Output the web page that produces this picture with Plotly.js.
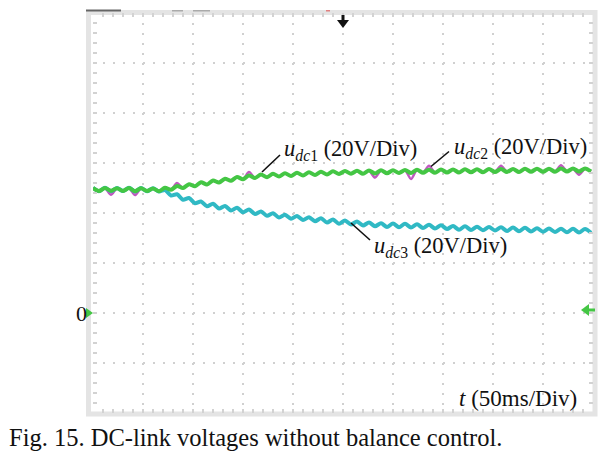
<!DOCTYPE html>
<html>
<head>
<meta charset="utf-8">
<script src="https://cdn.plot.ly/plotly-3.0.1.min.js"></script>
<style>
  html, body { margin: 0; padding: 0; background: #fff; }
  #plot { width: 616px; height: 456px; }
</style>
</head>
<body>
<div id="plot"></div>
<script>
// time base (ms), 50 ms/div, 10 div
const tMs = [0, 6, 12, 18, 24, 30, 36, 42, 48, 54, 60, 66, 72, 78, 84, 90, 96, 102, 108, 114,
  120, 126, 132, 138, 144, 150, 156, 162, 168, 174, 180, 186, 192, 198, 204, 210, 216, 222, 228, 234,
  240, 246, 252, 258, 264, 270, 276, 282, 288, 294, 300, 306, 312, 318, 324, 330, 336, 342, 348, 354,
  360, 366, 372, 378, 384, 390, 396, 402, 408, 414, 420, 426, 432, 438, 444, 450, 456, 462, 468, 474,
  480, 486, 492, 498];

// udc2 (green) in V, 20 V/div
const udc2 = [50.0, 48.8, 50.0, 48.9, 49.9, 48.8, 50.0, 48.7, 49.9, 48.8, 49.8, 48.7, 50.1, 49.3, 50.8, 50.0, 51.5, 50.7, 52.3, 51.4,
  53.0, 52.2, 53.7, 52.9, 54.4, 53.5, 55.0, 54.0, 55.4, 54.3, 55.7, 54.6, 55.9, 54.8, 56.1, 55.0, 56.3, 55.2, 56.5, 55.4,
  56.7, 55.6, 56.8, 55.7, 56.9, 55.7, 57.0, 55.8, 57.1, 55.9, 57.1, 56.0, 57.2, 56.0, 57.3, 56.1, 57.3, 56.1, 57.4, 56.2,
  57.4, 56.2, 57.5, 56.3, 57.5, 56.3, 57.6, 56.4, 57.6, 56.4, 57.6, 56.4, 57.7, 56.5, 57.7, 56.5, 57.7, 56.5, 57.8, 56.6,
  57.8, 56.6, 57.8, 56.6];

// udc1 (magenta), mostly under udc2, with small spikes
const udc1 = [49.9, 48.9, 49.9, 47.3, 49.9, 48.9, 49.9, 47.2, 49.9, 48.8, 49.8, 48.7, 50.0, 49.3, 52.0, 50.0, 51.4, 50.7, 52.2, 51.4,
  52.9, 52.2, 53.6, 52.9, 54.3, 53.5, 56.4, 54.0, 55.3, 54.3, 55.6, 54.6, 55.8, 54.8, 56.0, 55.0, 56.2, 55.2, 56.4, 55.4,
  56.6, 55.6, 56.7, 55.7, 56.8, 55.7, 56.9, 54.2, 57.0, 55.9, 57.0, 56.0, 57.1, 53.6, 57.2, 56.1, 58.9, 56.1, 57.3, 56.2,
  57.3, 56.2, 57.4, 56.3, 57.4, 56.3, 57.5, 56.4, 58.9, 56.4, 57.5, 56.4, 57.6, 56.5, 57.6, 56.5, 57.6, 56.5, 59.1, 56.6,
  57.7, 55.3, 57.7, 56.6];

// udc3 (cyan)
const udc3 = [50.1, 48.7, 50.1, 48.7, 50.0, 48.8, 50.1, 48.6, 50.0, 48.7, 49.9, 48.6, 49.2, 47.0, 47.5, 45.3, 46.0, 43.9, 44.6, 42.7,
  43.7, 41.8, 42.8, 41.0, 42.1, 40.3, 41.4, 39.6, 40.6, 38.9, 39.9, 38.2, 39.3, 37.7, 38.8, 37.2, 38.3, 36.7, 37.9, 36.2,
  37.4, 35.7, 37.0, 35.4, 36.6, 35.0, 36.2, 34.7, 35.9, 34.4, 35.8, 34.3, 35.7, 34.2, 35.5, 34.0, 35.3, 33.8, 35.1, 33.6,
  34.8, 33.3, 34.7, 33.2, 34.5, 33.1, 34.4, 33.0, 34.3, 32.8, 34.2, 32.7, 34.1, 32.6, 33.9, 32.5, 33.8, 32.4, 33.7, 32.3,
  33.7, 32.2, 33.6, 32.1];

const serif = '"Liberation Serif", "Times New Roman", Times, serif';

function px(x) { return (x - 93) / 500; }   // page x -> paper x
function py(y) { return (413 - y) / 400; }  // page y -> paper y

const traces = [
  { x: tMs, y: udc1, type: 'scatter', mode: 'lines', line: { color: '#c058c0', width: 2.5, shape: 'spline', smoothing: 0.8 }, hoverinfo: 'skip' },
  { x: tMs, y: udc3, type: 'scatter', mode: 'lines', line: { color: '#30b9c4', width: 4, shape: 'spline', smoothing: 0.8 }, hoverinfo: 'skip' },
  { x: tMs, y: udc2, type: 'scatter', mode: 'lines', line: { color: '#44c644', width: 4, shape: 'spline', smoothing: 0.8 }, hoverinfo: 'skip' }
];

const tickCol = '#d2d2d2';
const gridAxis = {
  showgrid: true, gridcolor: '#d0d0d0', gridwidth: 2, griddash: '2px,8px',
  zeroline: false, showline: false, showticklabels: false,
  ticks: 'inside', ticklen: 4, tickcolor: tickCol, tickwidth: 1.5, mirror: 'allticks'
};

// center line tick axes
function centerX(side) {
  return { overlaying: 'x', anchor: 'free', position: 0.5, range: [0, 500], dtick: 10,
    showgrid: false, zeroline: false, showline: false, showticklabels: false,
    ticks: side, ticklen: 3, tickcolor: tickCol, tickwidth: 1.5 };
}
function centerY(side) {
  return { overlaying: 'y', anchor: 'free', position: 0.5, range: [-40, 120], dtick: 4,
    showgrid: false, zeroline: false, showline: false, showticklabels: false,
    ticks: side, ticklen: 3, tickcolor: tickCol, tickwidth: 1.5 };
}

const label = (txt, x, y) => ({
  text: txt, x: x, y: y, xref: 'x', yref: 'y', xanchor: 'left', yanchor: 'middle',
  showarrow: false, font: { family: serif, size: 22.5, color: '#111' }
});

const layout = {
  width: 616, height: 456,
  margin: { l: 93, r: 23, t: 13, b: 43 },
  paper_bgcolor: '#fff', plot_bgcolor: 'rgba(0,0,0,0)',
  showlegend: false,
  font: { family: serif },
  xaxis: Object.assign({ range: [0, 500], dtick: 50 }, gridAxis,
    { minor: { dtick: 10, ticks: 'inside', ticklen: 4, tickcolor: tickCol, tickwidth: 1.5, showgrid: false } }),
  yaxis: Object.assign({ range: [-40, 120], dtick: 20 }, gridAxis,
    { minor: { dtick: 4, ticks: 'inside', ticklen: 4, tickcolor: tickCol, tickwidth: 1.5, showgrid: false } }),
  xaxis2: centerX('outside'),
  xaxis3: centerX('inside'),
  yaxis2: centerY('outside'),
  yaxis3: centerY('inside'),
  shapes: [
    // scope frame
    { type: 'rect', xref: 'paper', yref: 'paper', x0: px(88.5), x1: px(595), y0: py(414), y1: py(12.5),
      line: { color: '#e4e4e4', width: 5 }, layer: 'below' },
    // pointer lines
    { type: 'line', xref: 'x', yref: 'y', x0: 169, y0: 56.4, x1: 187, y1: 63.2, line: { color: '#111', width: 1.6 } },
    { type: 'line', xref: 'x', yref: 'y', x0: 338, y0: 58.6, x1: 356, y1: 64.6, line: { color: '#111', width: 1.6 } },
    { type: 'line', xref: 'x', yref: 'y', x0: 258, y0: 36.0, x1: 277, y1: 29.2, line: { color: '#111', width: 1.6 } },
    // trigger arrow
    { type: 'rect', xref: 'paper', yref: 'paper', x0: px(341.5), x1: px(344.5), y0: py(21), y1: py(15),
      fillcolor: '#111', line: { width: 0 } },
    { type: 'path', xref: 'paper', yref: 'paper',
      path: 'M ' + px(337) + ' ' + py(20) + ' L ' + px(349) + ' ' + py(20) + ' L ' + px(343) + ' ' + py(28) + ' Z',
      fillcolor: '#111', line: { width: 0 } },
    // ground markers
    { type: 'path', xref: 'paper', yref: 'paper',
      path: 'M ' + px(86) + ' ' + py(308) + ' L ' + px(93) + ' ' + py(313) + ' L ' + px(86) + ' ' + py(318) + ' Z',
      fillcolor: '#44c644', line: { width: 0 } },
    { type: 'path', xref: 'paper', yref: 'paper',
      path: 'M ' + px(581) + ' ' + py(310) + ' L ' + px(589) + ' ' + py(304) + ' L ' + px(589) + ' ' + py(316) + ' Z',
      fillcolor: '#44c644', line: { width: 0 } },
    { type: 'rect', xref: 'paper', yref: 'paper', x0: px(588), x1: px(595), y0: py(311.5), y1: py(308.5),
      fillcolor: '#44c644', line: { width: 0 } },
    // cut-off scope readouts at the top
    { type: 'rect', xref: 'paper', yref: 'paper', x0: px(86), x1: px(121), y0: py(11.5), y1: py(9.5),
      fillcolor: '#666', line: { width: 0 } },
    { type: 'rect', xref: 'paper', yref: 'paper', x0: px(172), x1: px(183), y0: py(11.5), y1: py(10),
      fillcolor: '#aaa', line: { width: 0 } },
    { type: 'rect', xref: 'paper', yref: 'paper', x0: px(193), x1: px(210), y0: py(11.5), y1: py(10),
      fillcolor: '#aaa', line: { width: 0 } },
    { type: 'rect', xref: 'paper', yref: 'paper', x0: px(326), x1: px(330), y0: py(11.5), y1: py(10),
      fillcolor: '#e08080', line: { width: 0 } }
  ],
  annotations: [
    label('<i>u</i><sub><i>dc</i>1</sub> (20V/Div)', 189, 65.2),
    label('<i>u</i><sub><i>dc</i>2</sub> (20V/Div)', 359, 66.0),
    label('<i>u</i><sub><i>dc</i>3</sub> (20V/Div)', 279, 26.6),
    { text: '0', x: 0, y: 0, xref: 'x', yref: 'y', xanchor: 'right', yanchor: 'middle', xshift: -4,
      showarrow: false, font: { family: serif, size: 22, color: '#111' } },
    { text: '<i>t</i> (50ms/Div)', x: 486, y: -34, xref: 'x', yref: 'y', xanchor: 'right', yanchor: 'middle',
      showarrow: false, font: { family: serif, size: 23, color: '#111' } },
    { text: 'Fig. 15. DC-link voltages without balance control.', x: px(7), y: py(437), xref: 'paper', yref: 'paper',
      xanchor: 'left', yanchor: 'middle', showarrow: false, font: { family: serif, size: 24.5, color: '#111' } }
  ]
};

Plotly.newPlot('plot', traces, layout, { staticPlot: true, displayModeBar: false });
</script>
</body>
</html>
